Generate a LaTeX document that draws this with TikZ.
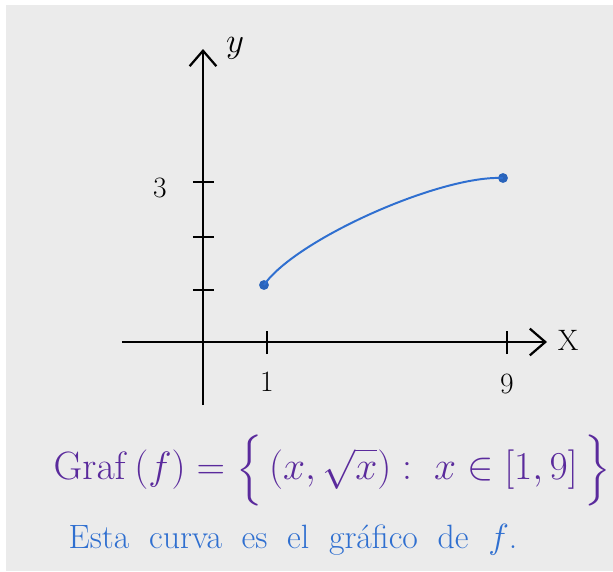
\documentclass[tikz,border=0pt]{standalone}
\usepackage{amsmath}
\usetikzlibrary{arrows.meta}
\definecolor{fondo}{HTML}{EBEBEB}
\definecolor{morado}{HTML}{5A2A9C}
\definecolor{azul}{HTML}{2F6FD0}
\tikzset{
    eje/.style={line width=1.8pt, -{Straight Barb[length=11pt,width=19pt,line width=1.6pt]}},
    marca/.style={line width=1.4pt},
    etiqueta/.style={font=\fontsize{21}{25}\selectfont},
    punto/.style={circle, fill=azul!90!black, inner sep=0pt, minimum size=7pt}
}
\begin{document}
\begin{tikzpicture}
    % Fondo y margen
    \useasboundingbox (-5.075,-5.725) rectangle (10.25,8.55);
    \fill[white] (-5.075,-5.725) rectangle (10.25,8.55);
    \fill[fondo] (-4.925,-5.725) rectangle (10.25,8.425);

    % Ejes coordenados
    \coordinate (xini) at (-2.025,0);
    \coordinate (xfin) at (8.6,0);
    \coordinate (yini) at (0,-1.575);
    \coordinate (yfin) at (0,7.325);
    \draw[eje] (xini) -- (xfin);
    \draw[eje] (yini) -- (yfin);
    \node[etiqueta, right] (xlab) at (8.75,0.05) {X};
    \node[etiqueta, font=\fontsize{24}{28}\selectfont] (ylab) at (0.8,7.35) {$y$};

    % Marcas en el eje x
    \foreach \px/\lab/\ly in {1.6/1/-1.0, 7.6/9/-1.05} {
        \draw[marca] (\px,-0.3) -- (\px,0.28);
        \node[etiqueta] (x\lab) at (\px,\ly) {\lab};
    }

    % Marcas en el eje y
    \foreach \py in {1.3, 2.625, 4.0}
        \draw[marca] (-0.25,\py) -- (0.275,\py);
    \node[etiqueta] (y3) at (-1.075,3.85) {3};

    % Curva y = sqrt(x) en [1,9]
    \node[punto] (ini) at (1.525,1.425) {};
    \node[punto] (fin) at (7.5,4.1) {};
    \draw[azul, line width=1.4pt] (ini.center) .. controls (2.3,2.55) and (5.925,4.175) .. (fin.center);

    % Texto
    \node[morado, font=\fontsize{24}{28}\selectfont] (graf) at (3.23,-3.2)
        {\scalebox{1.13}{$\mathrm{Graf}\,(f) = \Big\{\, (x, \sqrt{x}) : \; x \in [1,9] \,\Big\}$}};
    \node[azul, font=\fontsize{24}{28}\selectfont] (texto) at (2.25,-4.95)
        {\spaceskip=14pt Esta curva es el gráfico de $f$.};
\end{tikzpicture}
\end{document}
